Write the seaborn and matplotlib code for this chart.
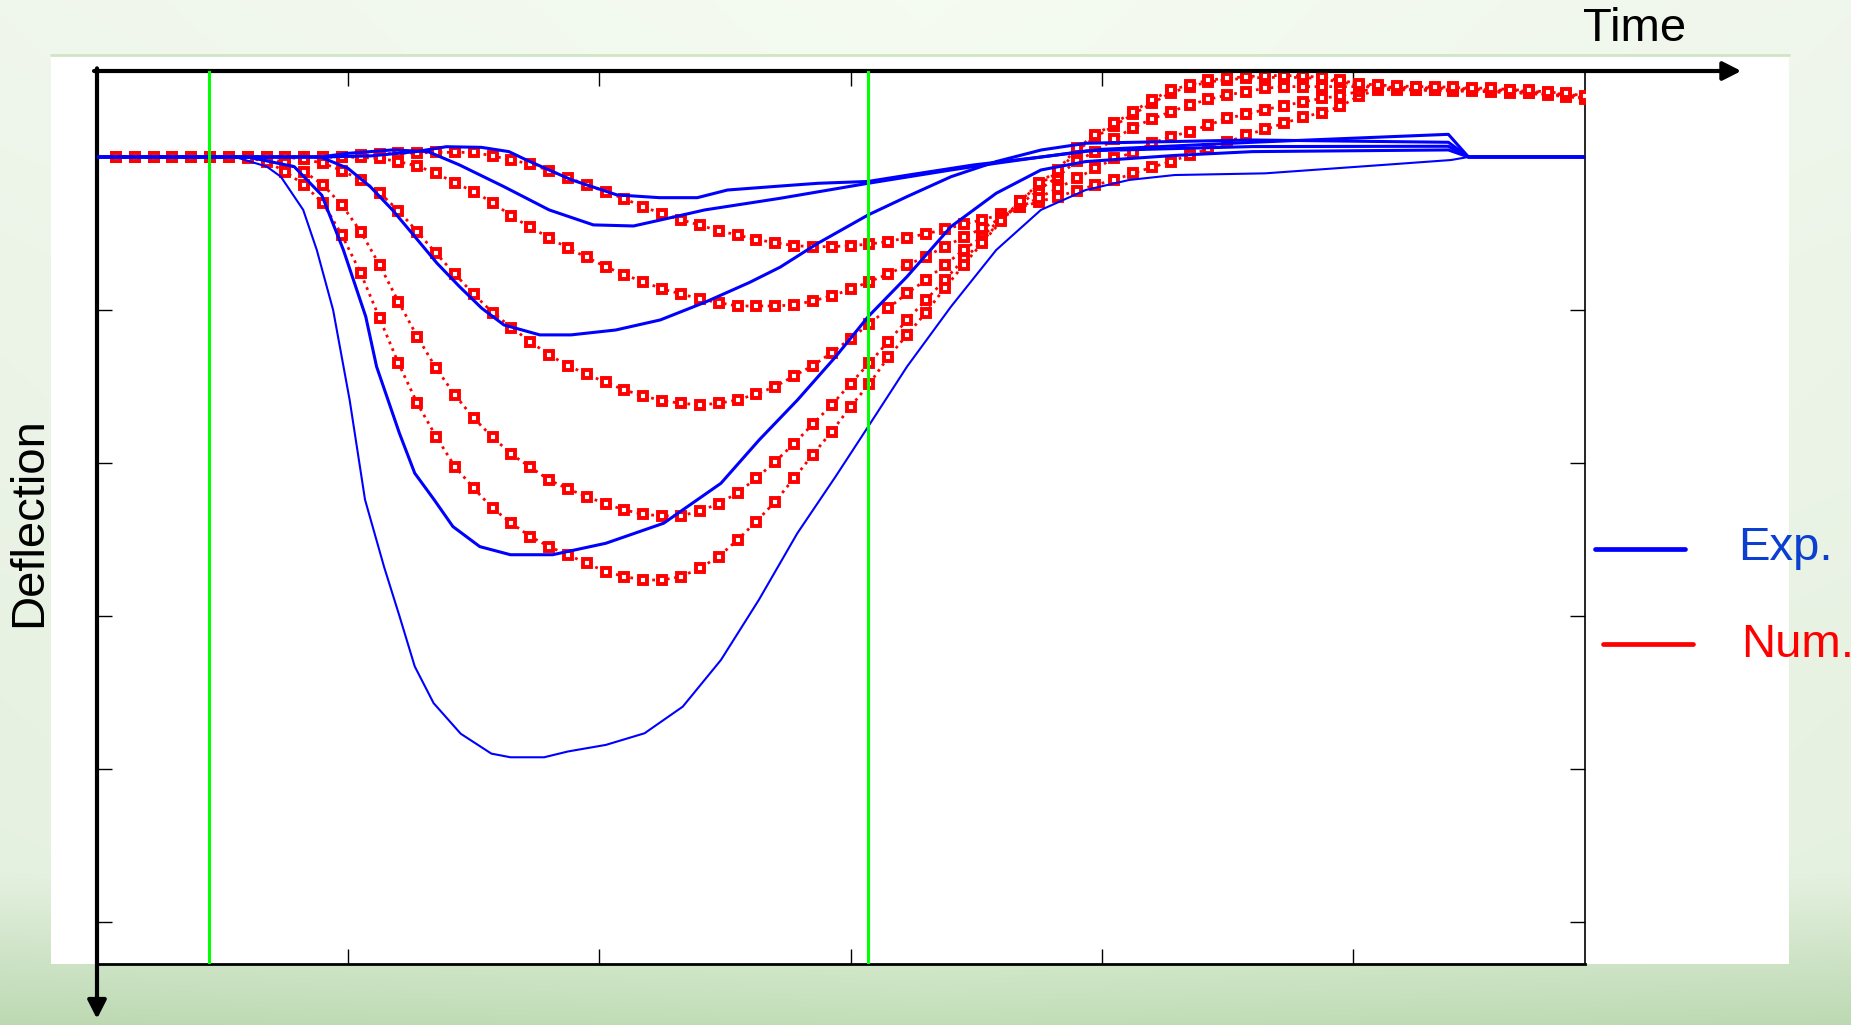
import numpy as np
import pandas as pd
import seaborn as sns
import matplotlib.pyplot as plt
from matplotlib.lines import Line2D
from matplotlib.patches import Rectangle

# ---- numerical results (red, one point every 0.075 time units) ----
num_t = [round(0.075 * k, 3) for k in range(1, 80)]

num_1 = [0] * 13 + [
    -0.01, -0.02, -0.024, -0.026, -0.03, -0.03, -0.03,
    -0.007, 0.02, 0.046, 0.089, 0.135, 0.183, 0.227, 0.274, 0.325, 0.372,
    0.41, 0.446, 0.482, 0.51, 0.54, 0.56, 0.58, 0.586, 0.586, 0.58,
    0.569, 0.553, 0.527, 0.503, 0.473, 0.44, 0.41, 0.375, 0.33, 0.292,
    0.259, 0.22, 0.183, 0.15, 0.107, 0.067, 0.03, -0.013, -0.052, -0.096,
    -0.144, -0.18, -0.22, -0.26, -0.29, -0.33, -0.40, -0.44, -0.44, -0.435,
    -0.435, -0.43, -0.43, -0.425, -0.42, -0.415, -0.405, -0.395, -0.38]
num_2 = [0] * 13 + [
    0.003, 0.009, 0.03, 0.059, 0.107, 0.168, 0.227,
    0.298, 0.386, 0.46, 0.527, 0.597, 0.656, 0.717, 0.771, 0.815, 0.863,
    0.895, 0.928, 0.952, 0.974, 0.974, 0.974, 0.967, 0.941, 0.908, 0.865,
    0.815, 0.765, 0.706, 0.651, 0.586, 0.525, 0.466, 0.40, 0.33, 0.265,
    0.205, 0.139, 0.074, 0.009, -0.028, -0.089, -0.133, -0.166, -0.209, -0.253,
    -0.279, -0.31, -0.335, -0.36, -0.383, -0.40, -0.43, -0.445, -0.445, -0.44,
    -0.44, -0.44, -0.435, -0.43, -0.425, -0.42, -0.41, -0.40, -0.385]
num_3 = [0] * 10 + [
    0.015, 0.041, 0.089, 0.15, 0.233, 0.351, 0.488, 0.63, 0.765, 0.898,
    1.017, 1.115, 1.207, 1.294, 1.364, 1.42, 1.473, 1.523, 1.562, 1.593,
    1.61, 1.621, 1.61, 1.588, 1.549, 1.501, 1.431, 1.364, 1.279, 1.187,
    1.092, 0.989, 0.891, 0.804, 0.706, 0.608, 0.52, 0.40, 0.31, 0.215,
    0.129, 0.026, -0.035, -0.118, -0.192, -0.248, -0.296, -0.34, -0.377, -0.405,
    -0.427, -0.449, -0.46, -0.46, -0.46, -0.46, -0.46, -0.455, -0.45, -0.45,
    -0.45, -0.445, -0.44, -0.44, -0.43, -0.425, -0.415, -0.405, -0.39]
num_4 = [0] * 9 + [
    0.041, 0.096, 0.183, 0.314, 0.488, 0.706, 0.946, 1.174, 1.381, 1.556, 1.708,
    1.832, 1.943, 2.028, 2.111, 2.17, 2.22, 2.268, 2.307, 2.336, 2.346,
    2.346, 2.314, 2.266, 2.196, 2.1, 1.991, 1.874, 1.745, 1.621, 1.482,
    1.346, 1.207, 1.065, 0.935, 0.804, 0.67, 0.55, 0.41, 0.29, 0.18,
    0.10, -0.04, -0.13, -0.205, -0.28, -0.35, -0.42, -0.46, -0.49, -0.505,
    -0.515, -0.52, -0.52, -0.52, -0.51, -0.49, -0.47, -0.46, -0.455, -0.455,
    -0.45, -0.45, -0.445, -0.44, -0.435, -0.43, -0.42, -0.41, -0.395]
num_5 = [0] * 7 + [
    0.005, 0.03, 0.096, 0.183, 0.303, 0.51, 0.76, 1.054, 1.348, 1.61, 1.828, 2.024, 2.166,
    2.296, 2.394, 2.481, 2.547, 2.601, 2.656, 2.71, 2.743, 2.765, 2.765,
    2.743, 2.688, 2.612, 2.503, 2.383, 2.253, 2.1, 1.945, 1.795, 1.632,
    1.482, 1.309, 1.163, 1.017, 0.858, 0.706, 0.56, 0.42, 0.29, 0.172,
    0.085, -0.057, -0.144, -0.22, -0.296, -0.373, -0.438, -0.471, -0.503, -0.514,
    -0.525, -0.532, -0.532, -0.53, -0.52, -0.50, -0.48, -0.47, -0.465, -0.46,
    -0.46, -0.455, -0.45, -0.45, -0.44, -0.435, -0.425, -0.415, -0.40]

# ---- experimental results (blue) ----
exp_a_t = [0, 0.9, 1.09, 1.27, 1.39, 1.53, 1.64, 1.71, 1.89, 2.07, 2.24, 2.39,
           2.51, 2.72, 2.87, 3.07, 3.23, 3.49, 3.76, 3.94, 4.6, 5.38, 5.46, 5.92]
exp_a_d = [0, 0, -0.007, -0.035, -0.067, -0.063, -0.035, 0.02, 0.15, 0.248, 0.266, 0.266,
           0.216, 0.19, 0.172, 0.16, 0.118, 0.052, 0.0, -0.04, -0.068, -0.07, 0, 0]

exp_b_t = [0, 0.89, 1.0, 1.176, 1.318, 1.443, 1.62, 1.8, 1.976, 2.136, 2.243,
           2.42, 2.72, 3.07, 3.40, 3.58, 3.76, 4.0, 4.6, 5.38, 5.46, 5.92]
exp_b_d = [0, 0, -0.024, -0.046, -0.035, 0.052, 0.194, 0.346, 0.444, 0.451, 0.412,
           0.346, 0.27, 0.172, 0.085, 0.041, 0.0, -0.05, -0.096, -0.148, 0, 0]

exp_c_t = [0, 0.89, 0.999, 1.088, 1.176, 1.265, 1.354, 1.443, 1.532, 1.62, 1.763, 1.887,
           2.065, 2.243, 2.42, 2.598, 2.72, 2.87, 3.07, 3.225, 3.40, 3.58, 3.76, 3.94,
           4.6, 5.38, 5.46, 5.92]
exp_c_d = [0, 0, 0.074, 0.194, 0.346, 0.52, 0.695, 0.847, 0.989, 1.098, 1.163, 1.163,
           1.131, 1.065, 0.95, 0.82, 0.72, 0.564, 0.379, 0.259, 0.129, 0.03, -0.046, -0.09,
           -0.111, -0.096, 0, 0]

exp_d_t = [0, 0.6, 0.785, 0.895, 0.981, 1.07, 1.113, 1.204, 1.265, 1.342, 1.417, 1.524,
           1.646, 1.814, 2.026, 2.256, 2.484, 2.636, 2.789, 2.941, 3.07, 3.225, 3.40,
           3.58, 3.758, 3.936, 4.29, 4.6, 5.38, 5.46, 5.92]
exp_d_d = [0, 0, 0.063, 0.25, 0.608, 1.044, 1.37, 1.806, 2.067, 2.24, 2.416, 2.547,
           2.60, 2.60, 2.525, 2.394, 2.133, 1.85, 1.588, 1.305, 1.044, 0.782, 0.455,
           0.237, 0.085, 0.03, -0.01, -0.035, -0.046, 0, 0]

exp_e_t = [0, 0.55, 0.676, 0.732, 0.821, 0.875, 0.94, 1.006, 1.067, 1.143,
           1.204, 1.265, 1.34, 1.448, 1.57, 1.646, 1.78, 1.875, 2.026, 2.18,
           2.332, 2.484, 2.635, 2.788, 2.94, 3.07, 3.225, 3.40, 3.58, 3.758,
           3.936, 4.11, 4.29, 4.65, 5.12, 5.39, 5.46, 5.92]
exp_e_d = [0, 0, 0.063, 0.129, 0.346, 0.608, 1.0, 1.59, 2.24, 2.68,
           3.0, 3.33, 3.57, 3.77, 3.90, 3.924, 3.924, 3.886, 3.843, 3.767,
           3.593, 3.288, 2.895, 2.46, 2.09, 1.763, 1.37, 0.978, 0.608, 0.346,
           0.216, 0.15, 0.118, 0.107, 0.052, 0.02, 0, 0]

# time marks (green)
marks_t = [0.446, 3.07]
x_ticks = [0, 1, 2, 3, 4, 5]
y_ticks = [0, 1, 2, 3, 4, 5]

sns.set_style('ticks')
plt.rcParams['font.family'] = ['Liberation Sans', 'DejaVu Sans']

W, H = 1851, 1025
fig = plt.figure(figsize=(W / 100, H / 100), dpi=100)

# slide background: soft green gradient with a white panel
bg = fig.add_axes([0, 0, 1, 1], zorder=-10)
yy = np.linspace(0, 1, H)[:, None]
xx = np.linspace(0, 1, W)[None, :]
top = np.array([0.94, 0.965, 0.925])
mid = np.array([0.90, 0.945, 0.88])
bot = np.array([0.74, 0.85, 0.70])
w1 = np.clip(yy / 0.85, 0, 1)[..., None]
w2 = np.clip((yy - 0.85) / 0.15, 0, 1)[..., None]
grad = top * (1 - w1) + mid * w1
grad = grad * (1 - w2) + bot * w2
grad = grad + 0.02 * (1 - np.abs(xx - 0.5) * 2)[..., None]
bg.imshow(np.clip(grad, 0, 1), extent=(0, W, H, 0), aspect='auto')
bg.add_patch(Rectangle((51, 55), 1738, 908.5, facecolor='white', edgecolor='none'))
bg.plot([51, 1789], [55, 55], color='#cfe6c3', lw=2)
bg.set_xlim(0, W)
bg.set_ylim(H, 0)
bg.axis('off')

ax = fig.add_axes([97 / W, 1 - 963.5 / H, (1585 - 97) / W, (963.5 - 71) / H])
ax.set_facecolor('none')

# numerical curves
df_num = pd.DataFrame({
    't': num_t * 5,
    'd': num_1 + num_2 + num_3 + num_4 + num_5,
    'run': np.repeat([1, 2, 3, 4, 5], len(num_t)),
})
sns.lineplot(data=df_num, x='t', y='d', units='run', estimator=None, sort=False,
             color='#ff0000', lw=2, ls=':', marker='s', ms=5.2,
             mfc='white', mec='#ff0000', mew=2.8, ax=ax, zorder=3)

# experimental curves
exp_curves = [(exp_a_t, exp_a_d, 2.2), (exp_b_t, exp_b_d, 2.2), (exp_c_t, exp_c_d, 2.2),
              (exp_d_t, exp_d_d, 2.2), (exp_e_t, exp_e_d, 1.5)]
for t, d, lw in exp_curves:
    sns.lineplot(x=t, y=d, estimator=None, sort=False, color='#0000ff', lw=lw,
                 ax=ax, zorder=4)

for t in marks_t:
    ax.axvline(t, color='#00ff00', lw=2.2, zorder=5)

ax.set_xlim(0, 5.924)
ax.set_ylim(5.272, -0.562)
ax.set_xticks(x_ticks)
ax.set_yticks(y_ticks)
ax.set_xlabel('')
ax.set_ylabel('')
ax.tick_params(direction='in', length=11, width=1, top=True, right=True,
               labelbottom=False, labelleft=False, color='black')
ax.spines['top'].set_visible(False)
ax.spines['left'].set_visible(False)
ax.spines['bottom'].set_linewidth(2)
ax.spines['bottom'].set_color('black')
ax.spines['right'].set_linewidth(1.2)
ax.spines['right'].set_color('black')

# axis arrows
arrow = dict(arrowstyle='-|>,head_length=0.55,head_width=0.28', color='black',
             lw=3, mutation_scale=20, shrinkA=0, shrinkB=0)
ax.annotate('', xy=(1.105, 1), xytext=(-0.002, 1), xycoords='axes fraction',
            arrowprops=arrow)
ax.annotate('', xy=(0, -0.062), xytext=(0, 1.003), xycoords='axes fraction',
            arrowprops=arrow)

fig.text(1635 / W, 1 - 41 / H, 'Time', fontsize=34, color='black',
         ha='center', va='baseline')
fig.text(29 / W, 1 - 522 / H, 'Deflection', fontsize=34, color='black',
         rotation=90, ha='center', va='center')

# legend drawn beside the axes
fig.add_artist(Line2D([1595 / W, 1685 / W], [1 - 549 / H] * 2, color='#0000ff', lw=3.4))
fig.add_artist(Line2D([1603 / W, 1693 / W], [1 - 644 / H] * 2, color='#ff0000', lw=3.4))
fig.text(1738 / W, 1 - 560 / H, 'Exp.', color='#0a3fd0', fontsize=34, va='baseline')
fig.text(1741 / W, 1 - 657 / H, 'Num.', color='#ff0000', fontsize=34, va='baseline')

fig.savefig('out.png', dpi=100)
